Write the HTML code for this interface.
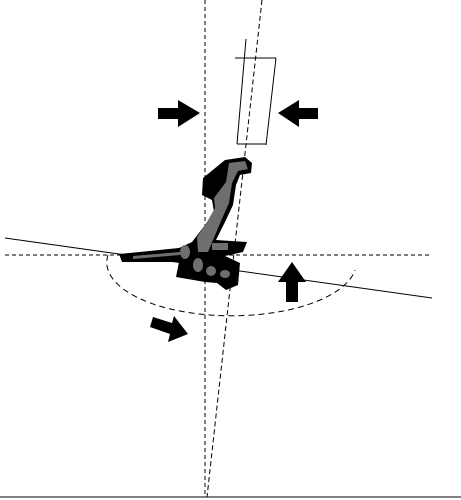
<!DOCTYPE html>
<html><head><meta charset="utf-8"><style>
html,body{margin:0;padding:0;background:#fff;}
svg{display:block;}
</style></head><body>
<svg width="461" height="500" viewBox="0 0 461 500">
  <g fill="none" stroke="#000" stroke-width="1">
    <line x1="205" y1="0" x2="205" y2="497" stroke-dasharray="4,3"/>
    <line x1="262" y1="0" x2="207" y2="497" stroke-dasharray="5,3"/>
    <line x1="5" y1="255" x2="432" y2="255" stroke-dasharray="4,3"/>
    <path d="M108,255 A124,53 0 0 0 355,270" stroke-dasharray="6,4"/>
    <line x1="5" y1="238" x2="432" y2="298"/>
    <line x1="0" y1="497" x2="461" y2="497"/>
    <g>
      <line x1="235" y1="58" x2="276" y2="58"/>
      <line x1="276" y1="58" x2="266" y2="145"/>
      <line x1="237" y1="144" x2="266" y2="144"/>
      <line x1="246" y1="39" x2="237" y2="144"/>
    </g>
  </g>
  <g fill="#000">
    <polygon points="158,108 178,108 178,100 200,113 178,127 178,119 158,119"/>
    <polygon points="318,108 299,108 299,100 278,113 299,127 299,119 318,119"/>
    <polygon points="286,302 298,302 298,282 306,282 292,262 278,282 286,282"/>
    <polygon points="150,327 153,317 172,323 174,316 188,334 168,342 170,334"/>
  </g>
  <g>
    <path fill="#000" d="M203,178 L225,160 L245,157 L252,163 L251,173 L240,175 L236,185 L233,205 L225,222 L216,240 L247,242 L243,252 L225,256 L240,263 L238,285 L226,290 L217,283 L205,282 L176,277 L179,262 L122,262 L119,254 L179,248 L192,242 L205,225 L214,212 L212,200 L202,195 Z"/>
    <path fill="#6e6e6e" d="M229,163 L245,161 L248,169 L238,171 L232,183 L229,203 L221,221 L213,240 L208,252 L198,252 L197,237 L207,222 L215,208 L214,198 L226,182 Z"/>
    <rect fill="#6e6e6e" x="212" y="243" width="16" height="7"/>
    <polygon fill="#6e6e6e" points="133,256 180,252 180,255 133,259"/>
    <ellipse fill="#6e6e6e" cx="185" cy="252" rx="5" ry="7"/>
    <ellipse fill="#6e6e6e" cx="198" cy="265" rx="5" ry="7"/>
    <ellipse fill="#6e6e6e" cx="211" cy="271" rx="5" ry="5"/>
    <ellipse fill="#6e6e6e" cx="225" cy="274" rx="5" ry="4"/>
  </g>
</svg>
</body></html>
